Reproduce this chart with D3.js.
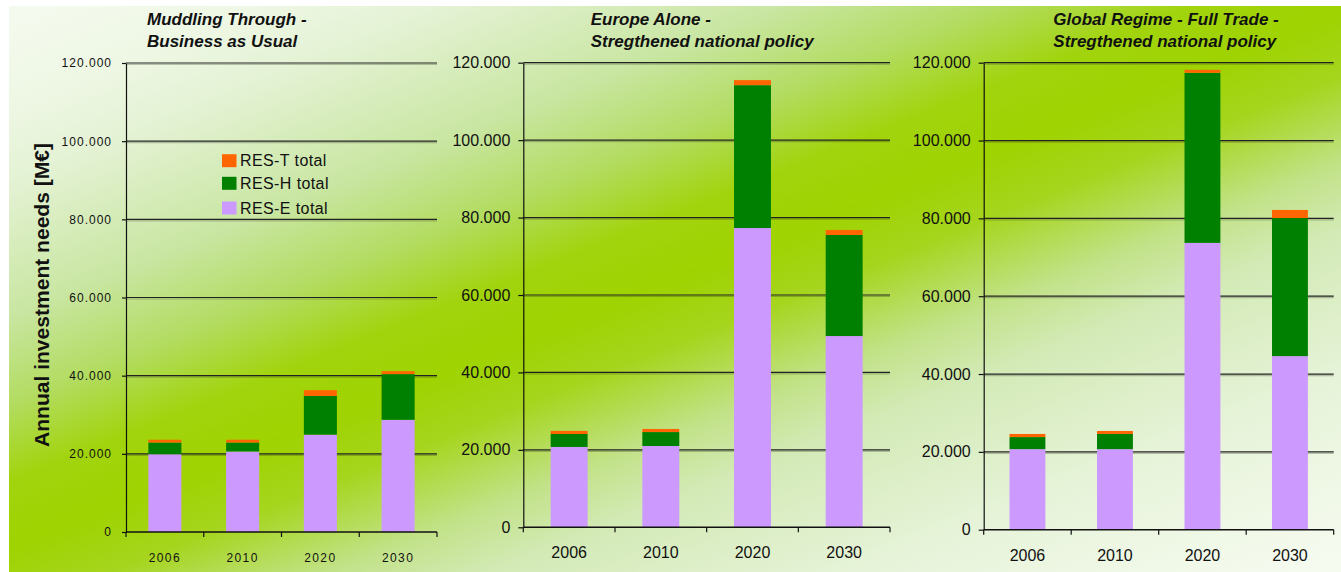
<!DOCTYPE html>
<html>
<head>
<meta charset="utf-8">
<script src="https://cdn.jsdelivr.net/npm/d3@7"></script>
<style>
  html, body { margin: 0; padding: 0; background: #fff; }
  svg { display: block; }
  text { font-family: "Liberation Sans", Arial, sans-serif; fill: #111; }
</style>
</head>
<body>
<svg id="chart" width="1341" height="572"></svg>
<script>
// ---- data (annual investment needs, M€) ----
const years = ["2006", "2010", "2020", "2030"];
const yTickValues = [0, 20000, 40000, 60000, 80000, 100000, 120000];
const seriesKeys = ["E", "H", "T"];
const legendLabels = ["RES-T total", "RES-H total", "RES-E total"];
const axisTitle = "Annual investment needs [M€]";

const titleBAU = ["Muddling Through -", "Business as Usual"];
const titleEA = ["Europe Alone -", "Stregthened national policy"];
const titleGR = ["Global Regime - Full Trade -", "Stregthened national policy"];

// Muddling Through - Business as Usual
const resE_BAU = [19900, 20600, 24900, 28700];
const resH_BAU = [3000, 2300, 9900, 11700];
const resT_BAU = [700, 700, 1500, 750];
// Europe Alone
const resE_EA = [20750, 21000, 77300, 49400];
const resH_EA = [3350, 3600, 36900, 26100];
const resT_EA = [800, 800, 1300, 1300];
// Global Regime - Full Trade
const resE_GR = [20700, 20700, 73700, 44600];
const resH_GR = [3100, 3900, 43700, 35500];
const resT_GR = [800, 770, 770, 2060];

// ---- styling ----
const colors = { E: "#cc99ff", H: "#008000", T: "#ff6600" };
const fontFamily = '"Liberation Sans", Arial, sans-serif';
const fmt = d3.formatLocale({ decimal: ",", thousands: ".", grouping: [3], currency: ["", "€"] }).format(",");

const svg = d3.select("#chart");

// background: diagonal bright-green band fading to pale corners
const defs = svg.append("defs");
const grad = defs.append("linearGradient")
  .attr("id", "bg").attr("gradientUnits", "userSpaceOnUse")
  .attr("x1", 483).attr("y1", -194).attr("x2", 864).attr("y2", 753);
[
  [0.00, "#f6fbf0"], [0.10, "#eef7e4"], [0.17, "#e4f2d4"], [0.29, "#c9e6a2"],
  [0.37, "#b3dc62"], [0.44, "#a2d40e"], [0.50, "#9fd300"], [0.56, "#a6d51e"],
  [0.64, "#c2e288"], [0.70, "#d3eab6"], [0.83, "#e6f3d8"], [1.00, "#f6fbf0"]
].forEach(([o, c]) => grad.append("stop").attr("offset", o).attr("stop-color", c));

svg.append("rect").attr("width", 1341).attr("height", 572).attr("fill", "#fff");
svg.append("rect").attr("x", 9).attr("y", 6).attr("width", 1332).attr("height", 566).attr("fill", "url(#bg)");

// ---- panels ----
const panels = [
  { title: titleBAU, E: resE_BAU, H: resH_BAU, T: resT_BAU,
    x0: 126, x1: 437, yTop: 63, y0: 532, pad: 0.575,
    tickFont: 12, tickLS: 1, yearLS: 1.4, tickSize: 4, tickPad: 10, yearY: 561.5,
    tx: 147, ty: [25, 46.5] },
  { title: titleEA, E: resE_EA, H: resH_EA, T: resT_EA,
    x0: 523.3, x1: 890, yTop: 62.7, y0: 527.3, pad: 0.597,
    tickFont: 16, tickLS: 0, yearLS: 0, tickSize: 5, tickPad: 8, yearY: 558,
    tx: 590.7, ty: [25, 46.7] },
  { title: titleGR, E: resE_GR, H: resH_GR, T: resT_GR,
    x0: 983.7, x1: 1333.7, yTop: 62.7, y0: 529.7, pad: 0.59,
    tickFont: 16, tickLS: 0, yearLS: 0, tickSize: 5, tickPad: 8, yearY: 560.5,
    tx: 1053.3, ty: [25, 46.7] }
];

panels.forEach(p => {
  const g = svg.append("g");
  const x = d3.scaleBand().domain(years).range([p.x0, p.x1])
    .paddingInner(p.pad).paddingOuter(p.pad / 2);
  const y = d3.scaleLinear().domain([0, 120000]).range([p.y0, p.yTop]);

  // gridlines with a soft shadow underneath
  const grid = yTickValues.filter(v => v > 0);
  g.append("g").selectAll("line").data(grid).join("line")
    .attr("x1", p.x0).attr("x2", p.x1)
    .attr("y1", d => y(d) + 1.5).attr("y2", d => y(d) + 1.5)
    .attr("stroke", "rgba(40,50,30,0.28)").attr("stroke-width", 1.2);
  g.append("g").selectAll("line").data(grid).join("line")
    .attr("x1", p.x0).attr("x2", p.x1)
    .attr("y1", d => y(d)).attr("y2", d => y(d))
    .attr("stroke", "#222").attr("stroke-width", 1.2);

  // stacked bars
  const rows = years.map((yr, i) => ({ year: yr, E: p.E[i], H: p.H[i], T: p.T[i] }));
  const stacked = d3.stack().keys(seriesKeys)(rows);
  g.append("g").selectAll("g").data(stacked).join("g")
    .attr("fill", s => colors[s.key])
    .selectAll("rect").data(s => s).join("rect")
    .attr("x", d => x(d.data.year))
    .attr("width", x.bandwidth())
    .attr("y", d => y(d[1]))
    .attr("height", d => y(d[0]) - y(d[1]));

  // y axis
  const ya = g.append("g").attr("transform", `translate(${p.x0},0)`)
    .call(d3.axisLeft(y).tickValues(yTickValues).tickFormat(fmt)
      .tickSize(p.tickSize).tickSizeOuter(0).tickPadding(p.tickPad));
  ya.select(".domain").attr("stroke", "#111").attr("stroke-width", 1.2);
  ya.selectAll(".tick line").attr("stroke", "#111").attr("stroke-width", 1.2);
  ya.selectAll(".tick text")
    .attr("font-family", fontFamily).attr("font-size", p.tickFont)
    .attr("letter-spacing", p.tickLS).attr("fill", "#111");

  // x axis: baseline, category boundary ticks, centred year labels
  const xa = g.append("g");
  xa.append("line").attr("x1", p.x0).attr("x2", p.x1)
    .attr("y1", p.y0).attr("y2", p.y0).attr("stroke", "#111").attr("stroke-width", 1.4);
  const gap = (x.step() - x.bandwidth()) / 2;
  const bounds = years.map(c => x(c) - gap).concat([x(years[years.length - 1]) + x.bandwidth() + gap]);
  xa.selectAll("line.tk").data(bounds).join("line").attr("class", "tk")
    .attr("x1", d => d).attr("x2", d => d)
    .attr("y1", p.y0).attr("y2", p.y0 + 5)
    .attr("stroke", "#111").attr("stroke-width", 1.2);
  xa.selectAll("text").data(years).join("text")
    .attr("x", d => x(d) + x.bandwidth() / 2)
    .attr("y", p.yearY)
    .attr("text-anchor", "middle")
    .attr("font-size", p.tickFont)
    .attr("letter-spacing", p.yearLS)
    .text(d => d);

  // panel title
  g.append("g").selectAll("text").data(p.title).join("text")
    .attr("x", p.tx).attr("y", (d, i) => p.ty[i])
    .attr("font-size", 17).attr("font-weight", "bold").attr("font-style", "italic")
    .text(d => d);
});

// shared y-axis title
svg.append("text")
  .attr("transform", "translate(49,295) rotate(-90)")
  .attr("text-anchor", "middle")
  .attr("font-size", 21).attr("font-weight", "bold")
  .attr("textLength", 304).attr("lengthAdjust", "spacingAndGlyphs")
  .text(axisTitle);

// legend (inside the first panel)
const legendColors = [colors.T, colors.H, colors.E];
const lg = svg.append("g");
const legendRowY = [160.7, 183.3, 208];
legendLabels.forEach((lab, i) => {
  lg.append("rect").attr("x", 222).attr("y", legendRowY[i] - 6.5)
    .attr("width", 14.5).attr("height", 13).attr("fill", legendColors[i]);
  lg.append("text").attr("x", 240).attr("y", legendRowY[i] + 5.7)
    .attr("font-size", 16).attr("letter-spacing", 0.4).text(lab);
});
</script>
</body>
</html>
